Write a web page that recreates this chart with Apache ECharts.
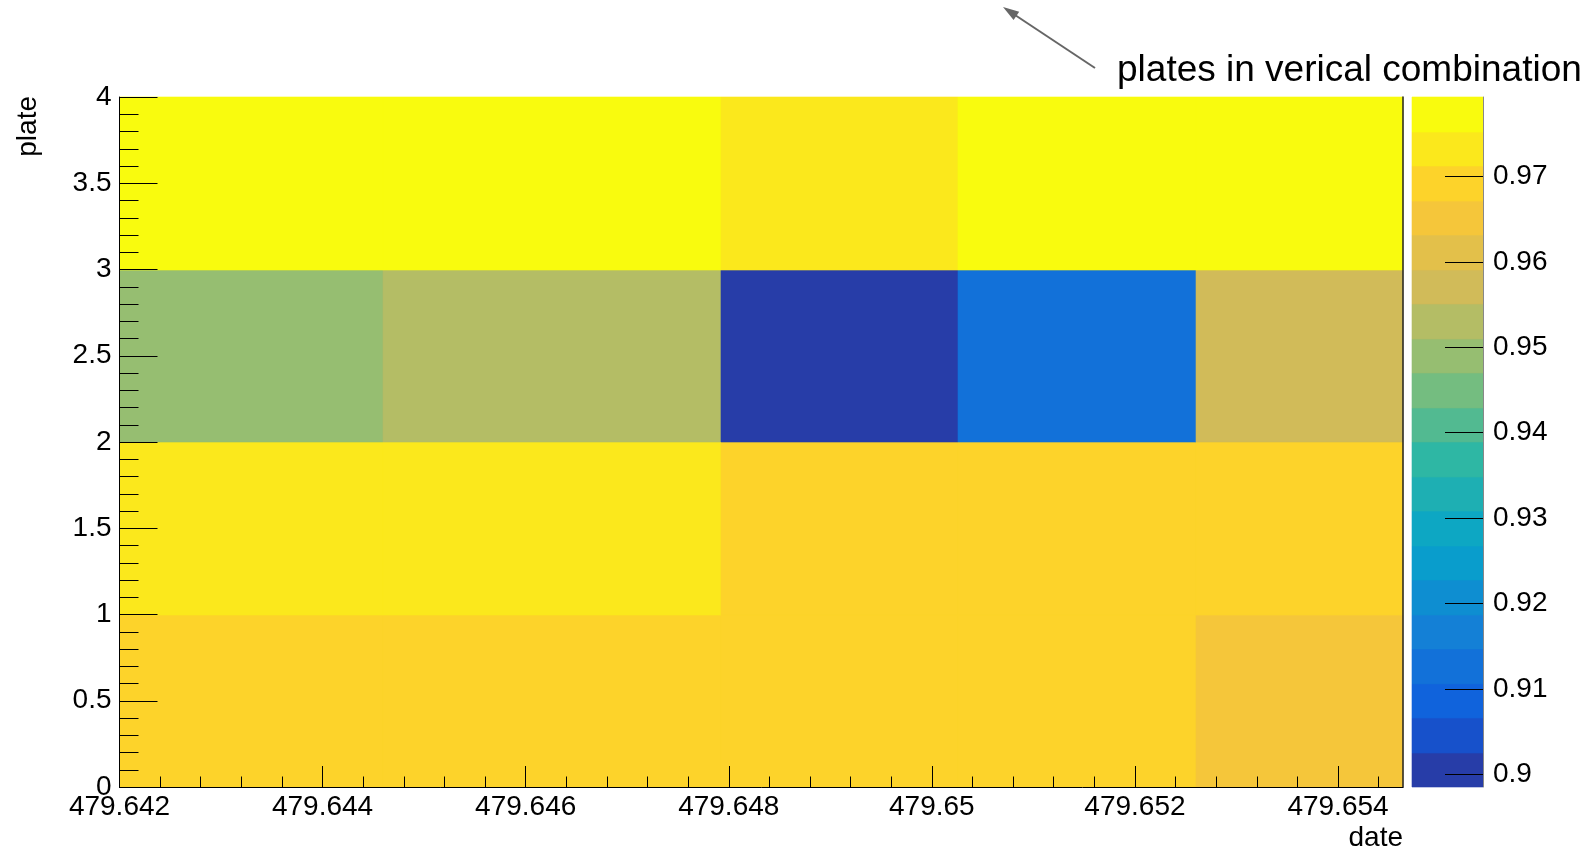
<!DOCTYPE html>
<html><head><meta charset="utf-8">
<script src="https://cdn.jsdelivr.net/npm/echarts@6/dist/echarts.min.js"></script>
<style>html,body{margin:0;padding:0;background:#fff}#c{width:1589px;height:850px}</style>
</head><body><div id="c"></div>
<script>
// ---- data ----
const xEdges = [479.642, 479.644594, 479.647925, 479.650259, 479.652603, 479.65464];
const yEdges = [0, 1, 2, 3, 4];
// rows: plate bins 0-1, 1-2, 2-3, 3-4 ; columns: date bins
const row0 = [0.9695, 0.9688, 0.9691, 0.9693, 0.9650];
const row1 = [0.9738, 0.9733, 0.9694, 0.9689, 0.9697];
const row2 = [0.9490, 0.9531, 0.8985, 0.9126, 0.9572];
const row3 = [0.9786, 0.9793, 0.9728, 0.9781, 0.9789];
const values = [row0, row1, row2, row3];
const xTickLabels = [479.642, 479.644, 479.646, 479.648, 479.650, 479.652, 479.654];
const yTickLabels = [0, 0.5, 1, 1.5, 2, 2.5, 3, 3.5, 4];
const zTickLabels = [0.90, 0.91, 0.92, 0.93, 0.94, 0.95, 0.96, 0.97];
const zMin = 0.8985, zMax = 0.9793;
const nLevels = 20;

// ---- palette (ROOT kBird) ----
const stR = [0.2082, 0.0592, 0.0780, 0.0232, 0.1802, 0.5301, 0.8186, 0.9956, 0.9764];
const stG = [0.1664, 0.3599, 0.5041, 0.6419, 0.7178, 0.7492, 0.7328, 0.7862, 0.9832];
const stB = [0.5293, 0.8684, 0.8385, 0.7914, 0.6425, 0.4662, 0.3499, 0.1968, 0.0539];
function paletteColor(k) {
  const idx = Math.floor((k + 0.99) * 255 / nLevels);
  const t = Math.min(1, idx / 254) * 8;
  const s = Math.min(7, Math.floor(t)), f = t - s;
  const c = a => Math.round(255 * (a[s] + (a[s + 1] - a[s]) * f));
  return 'rgb(' + c(stR) + ',' + c(stG) + ',' + c(stB) + ')';
}
function bandColor(v) {
  let k = Math.floor((v - zMin) / (zMax - zMin) * nLevels);
  k = Math.max(0, Math.min(nLevels - 1, k));
  return paletteColor(k);
}

// ---- derived ----
const xMin = xEdges[0], xMax = xEdges[xEdges.length - 1];
const cells = [];
values.forEach((row, j) => row.forEach((v, i) => {
  cells.push([xEdges[i], xEdges[i + 1], yEdges[j], yEdges[j + 1], v]);
}));
const xMinor = [];
for (let i = 0; ; i++) { const v = +(xMin + i * 0.0004).toFixed(4); if (v >= xMax) break; xMinor.push(v); }
const yMinor = [];
for (let i = 0; i <= 40; i++) yMinor.push(+(i * 0.1).toFixed(1));
const dz = (zMax - zMin) / nLevels;
const bands = [];
for (let k = 0; k < nLevels; k++) bands.push([0, 1, zMin + k * dz, zMin + (k + 1) * dz, k]);

const FONT = 'Liberation Sans';
const lab = { color: '#000', fontSize: 28, fontFamily: FONT };
const rectG = { left: 119.5, top: 97, width: 1283.5, height: 690, outerBoundsMode: 'none', containLabel: false };

function rectItem(api, fill) {
  const p0 = api.coord([api.value(0), api.value(3)]);
  const p1 = api.coord([api.value(1), api.value(2)]);
  const x0 = Math.round(p0[0]), y0 = Math.round(p0[1]);
  const x1 = Math.round(p1[0]), y1 = Math.round(p1[1]);
  return { type: 'rect', shape: { x: x0, y: y0, width: x1 - x0, height: y1 - y0 },
    style: { fill: fill, stroke: fill, lineWidth: 0.6 } };
}

const chart = echarts.init(document.getElementById('c'), null, { renderer: 'canvas' });
chart.setOption({
  backgroundColor: '#fff',
  animation: false,
  grid: [rectG, Object.assign({}, rectG),
    { left: 1412, top: 97, width: 71, height: 690, outerBoundsMode: 'none', containLabel: false }],
  xAxis: [
    { gridIndex: 0, type: 'value', min: xMin, max: xMax, z: 5,
      axisLine: { show: true, onZero: false, lineStyle: { color: '#000', width: 1 } },
      axisTick: { show: true, inside: true, length: 21, customValues: xTickLabels, lineStyle: { color: '#000' } },
      axisLabel: Object.assign({ customValues: xTickLabels, margin: 6, formatter: v => String(+(+v).toFixed(3)) }, lab),
      splitLine: { show: false } },
    { gridIndex: 1, type: 'value', min: xMin, max: xMax, z: 5,
      axisLine: { show: false },
      axisTick: { show: true, inside: true, length: 10.5, customValues: xMinor, lineStyle: { color: '#000' } },
      axisLabel: { show: false }, splitLine: { show: false } },
    { gridIndex: 2, type: 'value', min: 0, max: 1, show: false }
  ],
  yAxis: [
    { gridIndex: 0, type: 'value', min: 0, max: 4, position: 'left', z: 5,
      axisLine: { show: true, onZero: false, lineStyle: { color: '#000', width: 1 } },
      axisTick: { show: true, inside: true, length: 38, customValues: yTickLabels, lineStyle: { color: '#000' } },
      axisLabel: Object.assign({ customValues: yTickLabels, margin: 8 }, lab),
      splitLine: { show: false } },
    { gridIndex: 1, type: 'value', min: 0, max: 4, position: 'left', z: 5,
      axisLine: { show: false },
      axisTick: { show: true, inside: true, length: 19, customValues: yMinor, lineStyle: { color: '#000' } },
      axisLabel: { show: false }, splitLine: { show: false } },
    { gridIndex: 1, type: 'value', min: 0, max: 4, position: 'right', z: 5,
      axisLine: { show: true, onZero: false, lineStyle: { color: '#222', width: 1.5 } },
      axisTick: { show: false }, axisLabel: { show: false }, splitLine: { show: false } },
    { gridIndex: 2, type: 'value', min: zMin, max: zMax, position: 'right', z: 5,
      axisLine: { show: true, onZero: false, lineStyle: { color: '#888', width: 1 } },
      axisTick: { show: true, inside: true, length: 38, customValues: zTickLabels, lineStyle: { color: '#000' } },
      axisLabel: Object.assign({ customValues: zTickLabels, margin: 10, formatter: v => String(+(+v).toFixed(2)) }, lab),
      splitLine: { show: false } }
  ],
  series: [
    { type: 'custom', xAxisIndex: 0, yAxisIndex: 0, data: cells, z: 1,
      encode: { x: [0, 1], y: [2, 3] },
      renderItem: (params, api) => rectItem(api, bandColor(api.value(4))) },
    { type: 'custom', xAxisIndex: 2, yAxisIndex: 3, data: bands, z: 1,
      encode: { x: [0, 1], y: [2, 3] },
      renderItem: (params, api) => rectItem(api, paletteColor(api.value(4))) }
  ],
  graphic: [
    { type: 'text', x: 28, y: 96, rotation: Math.PI / 2,
      style: { text: 'plate', fill: '#000', fontSize: 28, fontFamily: FONT, align: 'right', verticalAlign: 'middle' } },
    { type: 'text', x: 1403, y: 838,
      style: { text: 'date', fill: '#000', fontSize: 28, fontFamily: FONT, align: 'right', verticalAlign: 'middle' } },
    { type: 'text', x: 1117, y: 71,
      style: { text: 'plates in verical combination', fill: '#000', fontSize: 37, fontFamily: FONT, align: 'left', verticalAlign: 'middle' } },
    { type: 'line', shape: { x1: 1095, y1: 68, x2: 1012, y2: 13 }, style: { stroke: '#666', lineWidth: 2 } },
    { type: 'polygon', shape: { points: [[1003, 7], [1019.2, 11.7], [1013.6, 20.1]] }, style: { fill: '#666' } }
  ]
});
</script>
</body></html>
